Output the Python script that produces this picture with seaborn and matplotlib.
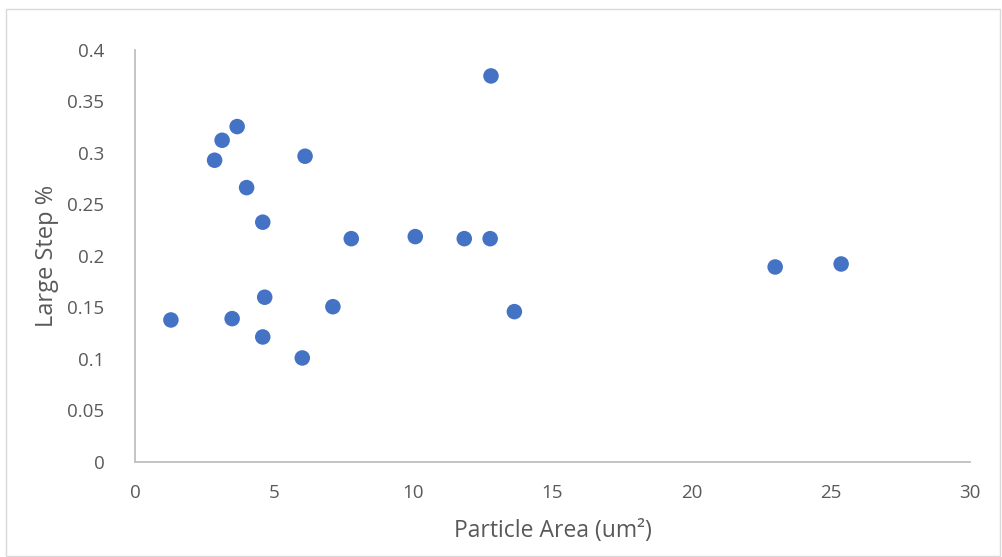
import matplotlib
matplotlib.use("Agg")
import matplotlib.pyplot as plt
import seaborn as sns
import pandas as pd
from matplotlib.patches import Rectangle

particle_area = [1.29, 2.86, 3.13, 3.67, 4.01, 6.11, 4.59, 7.77, 10.07, 11.83,
                 12.76, 4.66, 3.49, 7.11, 13.63, 4.59, 6.01, 12.79, 23.0, 25.37]
large_step = [0.1377, 0.2929, 0.3123, 0.3256, 0.2663, 0.2968, 0.2327, 0.2167, 0.2187, 0.2167,
              0.2167, 0.1598, 0.1390, 0.1506, 0.1458, 0.1212, 0.1008, 0.3748, 0.1892, 0.1921]
x_ticks = [0, 5, 10, 15, 20, 25, 30]
y_ticks = [0, 0.05, 0.1, 0.15, 0.2, 0.25, 0.3, 0.35, 0.4]
y_tick_labels = ["0", "0.05", "0.1", "0.15", "0.2", "0.25", "0.3", "0.35", "0.4"]

df = pd.DataFrame({"area": particle_area, "step": large_step})

sns.set_style("white")
plt.rcParams['font.family'] = ['Open Sans', 'DejaVu Sans']

fig = plt.figure(figsize=(10.02, 5.57), dpi=100)
ax = fig.add_axes([135/1002, 1 - 461.7/557, (970-135)/1002, (461.7-50)/557])

sns.scatterplot(data=df, x="area", y="step", ax=ax, color="#4472C4", s=125,
                edgecolor="none", linewidth=0, zorder=3, clip_on=False)

ax.set_xlim(0, 30)
ax.set_ylim(0, 0.4)
ax.set_xticks(x_ticks)
ax.set_xticklabels([str(t) for t in x_ticks])
ax.set_yticks(y_ticks)
ax.set_yticklabels(y_tick_labels)
ax.tick_params(axis="both", length=0, labelsize=13.5, labelcolor="#595959")
ax.tick_params(axis="x", pad=16)
ax.tick_params(axis="y", pad=22)

for side in ["top", "right"]:
    ax.spines[side].set_visible(False)
for side in ["left", "bottom"]:
    ax.spines[side].set_color("#bfbfbf")
    ax.spines[side].set_linewidth(1.3)

ax.set_xlabel("Particle Area (um²)", fontsize=16.5, color="#595959")
ax.set_ylabel("Large Step %", fontsize=17, color="#595959")
ax.xaxis.set_label_coords(553/1002, 1 - 531/557, transform=fig.transFigure)
ax.yaxis.set_label_coords(47/1002, 1 - 256/557, transform=fig.transFigure)
ax.xaxis.label.set_va("center")
ax.yaxis.label.set_va("center")

fig.patches.append(Rectangle((6/1002, 0.002), 994/1002, 1 - 9/557 - 0.002,
                             transform=fig.transFigure, fill=False,
                             edgecolor="#d9d9d9", linewidth=1.0))

fig.savefig("out.png", dpi=100, facecolor="white")
